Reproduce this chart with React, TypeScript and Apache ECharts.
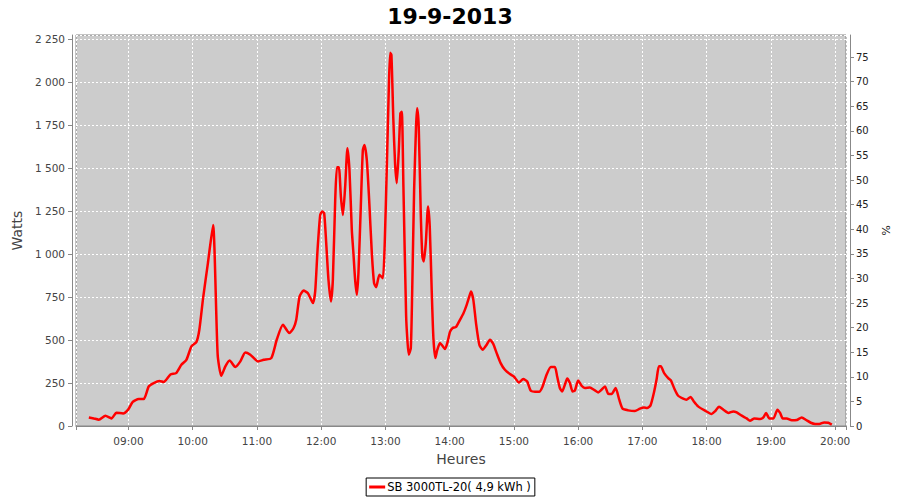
import React, { useEffect, useRef } from "react";
import * as echarts from "echarts";

const TITLE = "19-9-2013";
const SERIES_NAME = "SB 3000TL-20( 4,9 kWh )";
const X_NAME = "Heures";
const Y_NAME = "Watts";
const Y2_NAME = "%";
const X_MIN = "08:11:00";
const X_MAX = "20:10:10";
const WATTS_MAX = 2275;
const WATTS_STEP = 250;
const PCT_MAX = 79.5;
const PCT_STEP = 5;

const times = [
  "08:23:00", "08:27:36", "08:32:18", "08:38:30", "08:44:06", "08:48:48", "08:55:00", "08:59:42",
  "09:04:00", "09:09:36", "09:14:18", "09:18:54", "09:23:36", "09:28:54", "09:32:54", "09:39:12",
  "09:44:30", "09:49:24", "09:54:06", "09:58:48", "10:03:24", "10:06:12", "10:09:42", "10:14:12",
  "10:19:00", "10:23:18", "10:26:42", "10:30:30", "10:34:30", "10:39:48", "10:44:30", "10:49:06",
  "10:53:48", "11:01:00", "11:06:12", "11:13:24", "11:18:42", "11:24:18", "11:30:12", "11:34:12",
  "11:36:42", "11:39:48", "11:43:30", "11:47:36", "11:52:18", "11:54:24", "11:56:36", "11:59:06",
  "12:01:00", "12:02:48", "12:04:42", "12:06:48", "12:09:06", "12:10:54", "12:13:06", "12:14:42",
  "12:16:30", "12:18:24", "12:20:18", "12:22:24", "12:24:30", "12:26:24", "12:28:36", "12:30:06",
  "12:31:42", "12:33:18", "12:34:48", "12:37:00", "12:38:54", "12:40:24", "12:42:36", "12:44:48",
  "12:47:18", "12:49:24", "12:51:18", "12:54:24", "12:57:36", "12:59:24", "13:01:18", "13:03:12",
  "13:04:24", "13:05:36", "13:07:24", "13:09:00", "13:10:36", "13:12:30", "13:14:00", "13:15:18",
  "13:16:48", "13:19:18", "13:20:30", "13:21:48", "13:23:42", "13:24:54", "13:26:48", "13:28:36",
  "13:29:36", "13:31:06", "13:33:00", "13:34:30", "13:35:48", "13:37:42", "13:39:48", "13:41:24",
  "13:43:18", "13:44:48", "13:46:36", "13:48:30", "13:51:00", "13:53:12", "13:55:42", "13:58:12",
  "14:00:18", "14:02:48", "14:05:54", "14:09:36", "14:12:42", "14:15:54", "14:18:18", "14:19:54",
  "14:22:06", "14:24:36", "14:27:42", "14:30:48", "14:34:36", "14:37:36", "14:40:42", "14:43:54",
  "14:47:36", "14:51:36", "14:56:18", "15:00:00", "15:04:42", "15:08:42", "15:12:24", "15:15:36",
  "15:19:36", "15:23:36", "15:26:48", "15:30:30", "15:34:30", "15:38:18", "15:40:24", "15:42:54",
  "15:45:06", "15:47:36", "15:49:48", "15:52:18", "15:54:48", "15:57:00", "16:00:00", "16:03:12",
  "16:06:18", "16:11:00", "16:14:42", "16:18:42", "16:21:48", "16:25:00", "16:28:00", "16:31:12",
  "16:35:00", "16:38:24", "16:41:30", "16:46:42", "16:53:00", "16:57:42", "17:01:24", "17:04:24",
  "17:07:36", "17:10:42", "17:13:12", "17:15:24", "17:17:12", "17:20:18", "17:24:06", "17:26:36",
  "17:30:18", "17:33:24", "17:38:06", "17:41:06", "17:45:00", "17:48:00", "17:52:00", "17:58:30",
  "18:04:42", "18:07:48", "18:11:36", "18:15:36", "18:20:18", "18:24:54", "18:28:06", "18:32:48",
  "18:37:24", "18:40:30", "18:44:36", "18:49:54", "18:53:00", "18:55:30", "18:58:36", "19:02:24",
  "19:06:06", "19:08:36", "19:11:06", "19:14:48", "19:19:30", "19:24:12", "19:28:48", "19:32:54",
  "19:37:18", "19:41:18", "19:45:18", "19:49:42", "19:53:42", "19:56:54",
];

const watts = [
  50, 44, 37, 60, 44, 77, 73, 95,
  140, 157, 157, 230, 250, 262, 256, 300,
  308, 356, 385, 463, 488, 560, 744, 948,
  1170, 415, 292, 347, 381, 343, 376, 428,
  415, 376, 385, 395, 506, 589, 541, 570,
  618, 753, 788, 773, 715, 783, 1025, 1228,
  1248, 1238, 1064, 851, 724, 851, 1316, 1506,
  1506, 1335, 1228, 1393, 1616, 1490, 1141, 1006,
  851, 763, 890, 1277, 1606, 1635, 1548, 1316,
  1006, 831, 808, 880, 860, 1073, 1509, 1974,
  2172, 2159, 1781, 1529, 1413, 1606, 1820, 1829,
  1393, 647, 502, 415, 453, 753, 1374, 1742,
  1849, 1742, 1238, 986, 957, 1064, 1277, 1160,
  773, 512, 395, 444, 483, 467, 448, 492,
  548, 570, 576, 618, 653, 705, 753, 783,
  734, 599, 473, 444, 473, 502, 478, 424,
  366, 327, 302, 288, 253, 273, 259, 207,
  199, 199, 230, 298, 343, 343, 288, 221,
  201, 240, 277, 250, 201, 207, 265, 234,
  221, 224, 211, 195, 211, 230, 188, 186,
  221, 153, 101, 91, 87, 101, 108, 105,
  120, 192, 269, 347, 347, 308, 279, 265,
  211, 176, 159, 153, 169, 143, 114, 89,
  70, 85, 112, 95, 76, 85, 79, 60,
  44, 31, 44, 41, 50, 76, 44, 44,
  95, 76, 44, 44, 33, 35, 50, 35,
  19, 12, 12, 21, 19, 8,
];

function toMinutes(hms: string): number {
  const [h, m, s] = hms.split(":").map(Number);
  return h * 60 + m + (s || 0) / 60;
}

function pad2(n: number): string {
  return n < 10 ? "0" + n : String(n);
}

function thousands(v: number): string {
  return String(v).replace(/\B(?=(\d{3})+(?!\d))/g, " ");
}

const FONT = "DejaVu Sans";

export default function App() {
  const ref = useRef<HTMLDivElement>(null);

  useEffect(() => {
    if (!ref.current) return;
    const chart = echarts.init(ref.current, undefined, { renderer: "svg" });
    const data = times.map((t, i) => [toMinutes(t), watts[i]]);

    chart.setOption({
      animation: false,
      backgroundColor: "#ffffff",
      textStyle: { fontFamily: FONT },
      title: {
        text: TITLE,
        left: "center",
        top: 0,
        textStyle: { fontFamily: FONT, fontSize: 22, fontWeight: "bold", color: "#000000" },
      },
      legend: {
        data: [SERIES_NAME],
        left: "center",
        top: 478,
        padding: [3, 4, 3, 3],
        borderColor: "#000000",
        borderWidth: 1,
        borderRadius: 0,
        itemWidth: 16,
        itemHeight: 3,
        itemGap: 2,
        icon: "rect",
        textStyle: { fontFamily: FONT, fontSize: 11.5, color: "#000000", padding: [0, 0, 0, -3] },
      },
      grid: {
        left: 76,
        right: 54,
        top: 35,
        bottom: 74,
        show: true,
        backgroundColor: "#cccccc",
        borderColor: "#888888",
        borderWidth: 1,
      },
      xAxis: {
        type: "value",
        min: toMinutes(X_MIN),
        max: toMinutes(X_MAX),
        minInterval: 60,
        maxInterval: 60,
        offset: 4,
        name: X_NAME,
        nameLocation: "middle",
        nameGap: 22,
        nameTextStyle: { fontFamily: FONT, fontSize: 14, color: "#444444" },
        axisLine: { show: true, lineStyle: { color: "#888888", width: 1 } },
        axisTick: { show: true, length: 4, lineStyle: { color: "#888888" } },
        axisLabel: {
          fontFamily: FONT,
          fontSize: 10.5,
          color: "#444444",
          margin: 5,
          formatter: (v: number) => {
            const r = Math.round(v);
            if (Math.abs(v - r) > 0.01 || r % 60 !== 0) return "";
            return pad2(r / 60) + ":00";
          },
        },
        splitLine: { show: true, lineStyle: { color: "#ffffff", width: 1, type: [2, 2] } },
      },
      yAxis: [
        {
          type: "value",
          min: 0,
          max: WATTS_MAX,
          interval: WATTS_STEP,
          offset: 4,
          position: "left",
          name: Y_NAME,
          nameLocation: "middle",
          nameGap: 40,
          nameTextStyle: { fontFamily: FONT, fontSize: 14, color: "#444444" },
          axisLine: { show: true, lineStyle: { color: "#888888", width: 1 } },
          axisTick: { show: true, length: 4, lineStyle: { color: "#888888" } },
          axisLabel: {
            fontFamily: FONT,
            fontSize: 10.5,
            color: "#444444",
            margin: 7,
            showMaxLabel: false,
            formatter: (v: number) => (v % WATTS_STEP === 0 ? thousands(v) : ""),
          },
          splitLine: { show: true, lineStyle: { color: "#ffffff", width: 1, type: [2, 2] } },
        },
        {
          type: "value",
          min: 0,
          max: PCT_MAX,
          interval: PCT_STEP,
          offset: 4,
          position: "right",
          name: Y2_NAME,
          nameLocation: "middle",
          nameGap: 26,
          nameRotate: -90,
          nameTextStyle: { fontFamily: FONT, fontSize: 11, color: "#222222" },
          axisLine: { show: true, lineStyle: { color: "#888888", width: 1 } },
          axisTick: { show: true, length: 4, lineStyle: { color: "#888888" } },
          axisLabel: {
            fontFamily: FONT,
            fontSize: 10,
            color: "#222222",
            margin: 6,
            showMaxLabel: false,
            formatter: (v: number) => (v % PCT_STEP === 0 ? String(v) : ""),
          },
          splitLine: { show: false },
        },
      ],
      series: [
        {
          name: SERIES_NAME,
          type: "line",
          yAxisIndex: 0,
          data,
          smooth: 0.2,
          showSymbol: false,
          symbol: "rect",
          lineStyle: { color: "#ff0000", width: 2.5 },
          itemStyle: { color: "#ff0000" },
        },
      ],
    });

    return () => chart.dispose();
  }, []);

  return (
    <div
      ref={ref}
      style={{ position: "absolute", left: 0, top: 0, width: 900, height: 500 }}
    />
  );
}
